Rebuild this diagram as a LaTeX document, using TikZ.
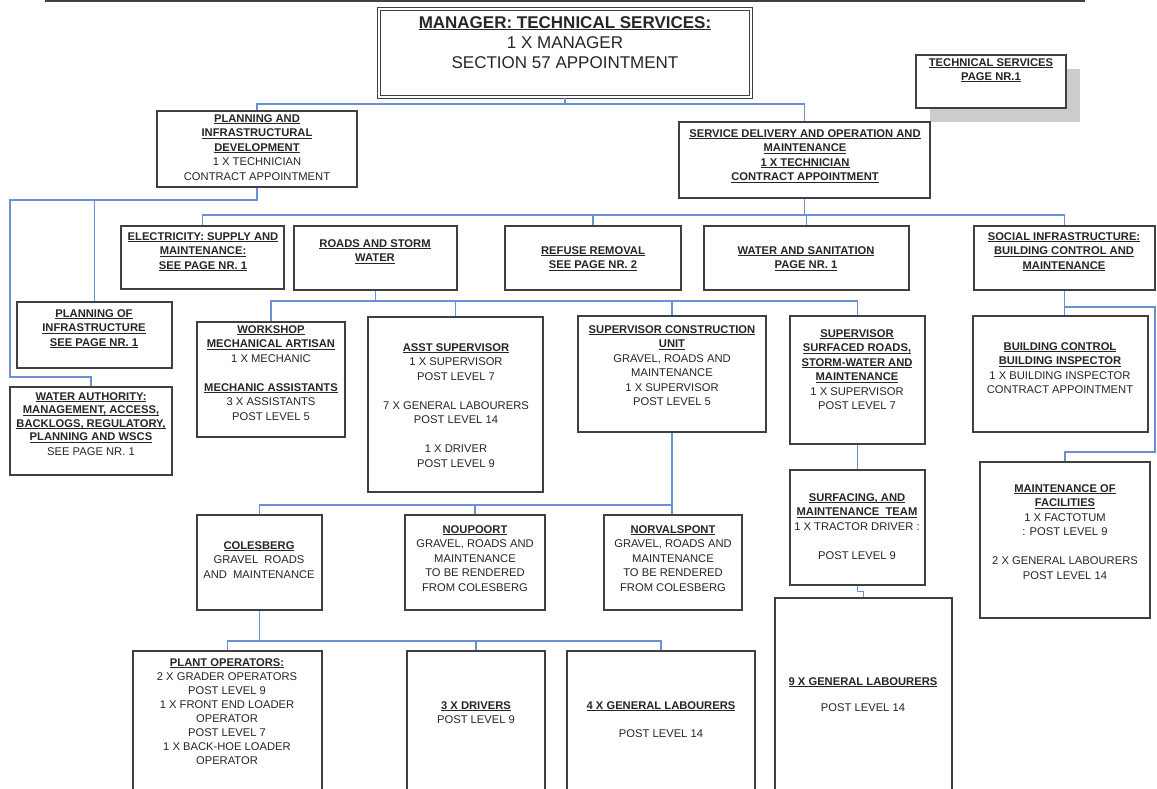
\documentclass[tikz,border=0pt]{standalone}
\usepackage{fontspec}
\setmainfont{Liberation Sans}
\definecolor{conncol}{RGB}{105,145,212}
\newcommand\ulx[1]{\setbox0=\hbox{#1}\leavevmode\rlap{\rule[-2.2pt]{\wd0}{0.9pt}}\box0}
\newcommand\hd[1]{\ulx{\bfseries #1}}
\newcommand\bx[5]{\node[box, minimum width={(#4)-(#2)}, minimum height={(#5)-(#3)}] (#1) at ({((#2)+(#4))/2},{((#3)+(#5))/2}) {};}
\newcommand\tx[4]{\node[txt] (#1) at (#2,{(#3)-4}) {#4};}
\tikzset{
  box/.style={draw=black!75, line width=1.3pt, fill=white, inner sep=0pt, rectangle},
  txt/.style={anchor=north, align=center, inner sep=0pt, font=\fontsize{11.2}{14.5}\selectfont, text=black!85},
  conn/.style={draw=conncol, line width=1.4pt},
}
\begin{document}
\begin{tikzpicture}[x=1pt,y=-1pt]
\clip (0,0) rectangle (1157,789);
\fill[white] (0,0) rectangle (1157,789);
\draw[line width=2pt, black!75] (45,1.5) -- (1085,1.5);

% boxes
\node[box, double=white, double distance=2pt, line width=1.1pt, minimum width=372pt, minimum height=88pt] (mgr) at (565,53) {};
\fill[black!20] (930,69) rectangle (1080,122);
\bx{tsp}{916}{55}{1066}{108}
\bx{plan}{157}{111}{357}{187}
\bx{svc}{679}{122}{930}{198}
\bx{elec}{121}{226}{284}{289}
\bx{roads}{294}{226}{457}{290}
\bx{ref}{505}{226}{681}{290}
\bx{wat}{704}{226}{909}{290}
\bx{soc}{974}{226}{1155}{290}
\bx{poi}{17}{302}{172}{368}
\bx{wa}{10}{387}{172}{475}
\bx{ws}{197}{322}{345}{437}
\bx{asst}{368}{317}{543}{492}
\bx{sc}{578}{316}{766}{432}
\bx{ss}{790}{316}{925}{444}
\bx{bc}{973}{316}{1148}{432}
\bx{st}{790}{470}{925}{585}
\bx{mf}{980}{462}{1150}{618}
\bx{col}{197}{515}{322}{610}
\bx{np}{405}{515}{545}{610}
\bx{nv}{604}{515}{742}{610}
\bx{po}{133}{651}{322}{800}
\bx{dr}{407}{651}{545}{800}
\bx{g4}{567}{651}{755}{800}
\bx{g9}{775}{598}{952}{800}

% texts
\node[txt, font=\fontsize{17}{20}\selectfont] (mgrt) at (565,16) {\hd{MANAGER: TECHNICAL SERVICES:}\\1 X MANAGER\\SECTION 57 APPOINTMENT};
\tx{tspt}{991}{62}{\hd{TECHNICAL SERVICES}\\[-0.5pt]\hd{PAGE NR.1}}
\tx{plant}{257}{118}{\hd{PLANNING AND}\\\hd{INFRASTRUCTURAL}\\\hd{DEVELOPMENT}\\1 X TECHNICIAN\\CONTRACT APPOINTMENT}
\tx{svct}{805}{133}{\hd{SERVICE DELIVERY AND OPERATION AND}\\\hd{MAINTENANCE}\\\hd{1 X TECHNICIAN}\\\hd{CONTRACT APPOINTMENT}}
\tx{elect}{203}{236}{\hd{ELECTRICITY: SUPPLY AND}\\\hd{MAINTENANCE:}\\\hd{SEE PAGE NR. 1}}
\tx{roadst}{375}{243}{\hd{ROADS AND STORM}\\\hd{WATER}}
\tx{reft}{593}{250}{\hd{REFUSE REMOVAL}\\\hd{SEE PAGE NR. 2}}
\tx{watt}{806}{250}{\hd{WATER AND SANITATION}\\\hd{PAGE NR. 1}}
\tx{soct}{1064}{236}{\hd{SOCIAL INFRASTRUCTURE:}\\\hd{BUILDING CONTROL AND}\\\hd{MAINTENANCE}}
\tx{poit}{94}{313}{\hd{PLANNING OF}\\\hd{INFRASTRUCTURE}\\\hd{SEE PAGE NR. 1}}
\tx{wat2}{91}{396}{\hd{WATER AUTHORITY:}\\[-1pt]\hd{MANAGEMENT, ACCESS,}\\[-1pt]\hd{BACKLOGS, REGULATORY,}\\[-1pt]\hd{PLANNING AND WSCS}\\SEE PAGE NR. 1}
\tx{wst}{271}{329}{\hd{WORKSHOP}\\\hd{MECHANICAL ARTISAN}\\1 X MECHANIC\\[14.5pt]\hd{MECHANIC ASSISTANTS}\\3 X ASSISTANTS\\POST LEVEL 5}
\tx{asstt}{456}{347}{\hd{ASST SUPERVISOR}\\1 X SUPERVISOR\\POST LEVEL 7\\[14.5pt]7 X GENERAL LABOURERS\\POST LEVEL 14\\[14.5pt]1 X DRIVER\\POST LEVEL 9}
\tx{sct}{672}{329}{\hd{SUPERVISOR CONSTRUCTION}\\\hd{UNIT}\\GRAVEL, ROADS AND\\MAINTENANCE\\1 X SUPERVISOR\\POST LEVEL 5}
\tx{sst}{857}{333}{\hd{SUPERVISOR}\\\hd{SURFACED ROADS,}\\\hd{STORM-WATER AND}\\\hd{MAINTENANCE}\\1 X SUPERVISOR\\POST LEVEL 7}
\tx{bct}{1060}{346}{\hd{BUILDING CONTROL}\\\hd{BUILDING INSPECTOR}\\1 X BUILDING INSPECTOR\\CONTRACT APPOINTMENT}
\tx{stt}{857}{497}{\hd{SURFACING, AND}\\\hd{MAINTENANCE\ \ TEAM}\\1 X TRACTOR DRIVER :\\[14.5pt]POST LEVEL 9}
\tx{mft}{1065}{488}{\hd{MAINTENANCE OF}\\\hd{FACILITIES}\\1 X FACTOTUM\\: POST LEVEL 9\\[14.5pt]2 X GENERAL LABOURERS\\POST LEVEL 14}
\tx{colt}{259}{545}{\hd{COLESBERG}\\GRAVEL\ \ ROADS\\AND\ \ MAINTENANCE}
\tx{npt}{475}{529}{\hd{NOUPOORT}\\GRAVEL, ROADS AND\\MAINTENANCE\\TO BE RENDERED\\FROM COLESBERG}
\tx{nvt}{673}{529}{\hd{NORVALSPONT}\\GRAVEL, ROADS AND\\MAINTENANCE\\TO BE RENDERED\\FROM COLESBERG}
\tx{pot}{227}{662}{\hd{PLANT OPERATORS:}\\[-0.5pt]2 X GRADER OPERATORS\\[-0.5pt]POST LEVEL 9\\[-0.5pt]1 X FRONT END LOADER\\[-0.5pt]OPERATOR\\[-0.5pt]POST LEVEL 7\\[-0.5pt]1 X BACK-HOE LOADER\\[-0.5pt]OPERATOR}
\tx{drt}{476}{705}{\hd{3 X DRIVERS}\\POST LEVEL 9}
\tx{g4t}{661}{705}{\hd{4 X GENERAL LABOURERS}\\[14pt]POST LEVEL 14}
\tx{g9t}{863}{681}{\hd{9 X GENERAL LABOURERS}\\[11.5pt]POST LEVEL 14}

% junction coordinates
\coordinate (b1) at (565,104);
\coordinate (b2) at (804.5,215);
\coordinate (b3) at (10,200);
\coordinate (b3b) at (10,377);
\coordinate (b4) at (375.5,301);
\coordinate (b5) at (1064.5,307);
\coordinate (b5r) at (1155,307);
\coordinate (b5d) at (1155,452);
\coordinate (b6) at (672,505);
\coordinate (b7) at (259.5,641);

% connectors
\draw[conn] (mgr.south) -- (b1);
\draw[conn] (plan.north) |- (b1) -| (svc.north);
\draw[conn] (svc.south) -- (b2);
\draw[conn] (elec.north) |- (b2) -| (soc.north);
\draw[conn] (ref.north) -- (ref.north |- b2);
\draw[conn] (wat.north) -- (wat.north |- b2);
\draw[conn] (plan.south) |- (b3) -- (b3b) -| (wa.north);
\draw[conn] (poi.north) -- (poi.north |- b3);
\draw[conn] (roads.south) -- (b4);
\draw[conn] (ws.north) |- (b4) -| (ss.north);
\draw[conn] (asst.north) -- (asst.north |- b4);
\draw[conn] (sc.north) -- (sc.north |- b4);
\draw[conn] (soc.south) -- (soc.south |- bc.north);
\draw[conn] (b5) -- (b5r) -- (b5d) -| (mf.north);
\draw[conn] (sc.south) -- (sc.south |- nv.north);
\draw[conn] (col.north) |- (b6);
\draw[conn] (np.north) -- (np.north |- b6);
\draw[conn] (col.south) -- (b7);
\draw[conn] (po.north) |- (b7) -| (g4.north);
\draw[conn] (dr.north) -- (dr.north |- b7);
\draw[conn] (ss.south) -- (st.north);
\draw[conn] (st.south) -- ([yshift=-6pt]st.south) -| (g9.north);
\end{tikzpicture}
\end{document}
